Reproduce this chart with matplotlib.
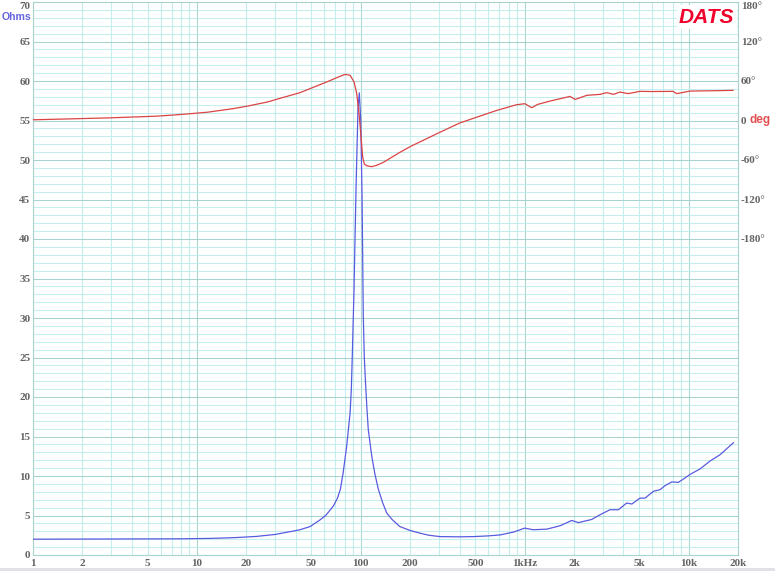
"""
Impedance / phase sweep of a woofer, DATS style.
"""

import matplotlib
matplotlib.use("Agg")
import matplotlib.pyplot as plt
from matplotlib.ticker import FixedLocator, NullFormatter


# impedance curve (Hz, ohms)
imp_freq = [1, 8, 12, 17, 23, 30, 38, 42.6, 49, 56, 61, 68, 72, 75, 78, 82, 86,
            87.5, 88.7, 90.9, 93.5, 96.1, 97.9, 99.9, 101.7, 102.7, 103.5, 105,
            107, 109, 111, 116.6, 122, 128, 136, 144, 155, 173, 200, 230, 260,
            304, 400, 490, 600, 707, 853, 1000, 1124, 1361, 1642, 1935, 2125,
            2564, 2880, 3314, 3727, 4190, 4500, 5050, 5420, 6093, 6690, 7185,
            7888, 8656, 9508, 10200, 11750, 13520, 15560, 17070, 18740]
imp_ohms = [2.0, 2.05, 2.1, 2.2, 2.35, 2.6, 3.0, 3.2, 3.6, 4.4, 5.0, 6.2, 7.2, 8.3,
            10.4, 13.8, 18.0, 21.0, 25.2, 33.7, 46.5, 56.6, 58.5, 55.0, 45.6,
            37.3, 30.3, 25.0, 21.5, 18.5, 15.9, 12.5, 10.2, 8.3, 6.6, 5.3, 4.5,
            3.6, 3.1, 2.76, 2.5, 2.33, 2.3, 2.33, 2.42, 2.54, 2.9, 3.4, 3.2,
            3.27, 3.7, 4.37, 4.1, 4.5, 5.1, 5.73, 5.73, 6.58, 6.45, 7.2, 7.2,
            8.06, 8.27, 8.78, 9.25, 9.2, 9.76, 10.2, 10.9, 11.9, 12.7, 13.45, 14.2]

# phase curve (Hz, degrees)
ph_freq = [1, 1.6, 3, 4.4, 5.7, 7, 9, 11.7, 16.6, 20, 26.8, 33, 42.6, 52, 61.9,
           72, 80, 86, 91, 94.4, 98, 100.7, 102.7, 105, 108.6, 116.5, 125, 137,
           173, 200, 250, 304, 403, 509, 674, 893, 1000, 1104, 1196, 1427, 1889,
           2027, 2390, 2880, 3164, 3473, 3814, 4286, 5050, 6000, 8035, 8460,
           10200, 14000, 18660]
ph_deg = [1.1, 2.3, 4.1, 5.6, 6.6, 8.1, 10.2, 12.7, 18.0, 21.5, 28.0, 34.5, 42.3,
          51.0, 58.5, 65.5, 70.0, 68.7, 58.5, 40.8, 5.0, -30.5, -56.0, -66.0,
          -68.7, -70.2, -68.0, -63.7, -48.4, -39.7, -28.0, -17.8, -3.6, 5.0,
          15.3, 24.0, 25.5, 19.4, 24.4, 29.5, 36.6, 32.0, 38.2, 39.7, 42.3,
          39.7, 43.2, 40.8, 44.3, 44.0, 44.3, 40.8, 44.7, 45.2, 45.8]

x_ticks = [1, 2, 5, 10, 20, 50, 100, 200, 500, 1000, 2000, 5000, 10000, 20000]
x_labels = ["1", "2", "5", "10", "20", "50", "100", "200", "500", "1kHz",
            "2k", "5k", "10k", "20k"]
ph_ticks = [-180, -120, -60, 0, 60, 120, 180]
ph_labels = ["-180°", "-120°", "-60°", "0", "60°", "120°", "180°"]

BLUE = "#5a5ae0"
RED = "#dc4444"
GRID_MINOR = "#c4eeee"
GRID_MAJOR = "#a8d4d0"
LABEL = "#646464"
FONT = dict(family="Liberation Serif", weight="bold", size=8)
SANS = dict(family="Liberation Sans", weight="bold", size=8.5)


fig = plt.figure(figsize=(7.75, 5.71), dpi=100)
fig.patch.set_facecolor("white")
ax = fig.add_axes([33 / 775, 16 / 571, 705 / 775, 553 / 571])

ax.set_xscale("log")
ax.set_xlim(1, 20000)
ax.set_ylim(0, 70)

# decades are the major (darker) lines, 2..9 the minor ones
decades = [1, 10, 100, 1000, 10000]
minors = [d * k for d in decades for k in range(2, 10) if d * k <= 20000]
ax.xaxis.set_major_locator(FixedLocator(decades))
ax.xaxis.set_minor_locator(FixedLocator(minors))
lab = dict(zip(x_ticks, x_labels))
ax.set_xticks(decades, [lab[d] for d in decades])
ax.set_xticks(minors, [lab.get(m, "") for m in minors], minor=True)

ax.set_yticks(range(0, 71, 5))
ax.set_yticks(range(0, 71, 1), minor=True)
ax.yaxis.set_minor_formatter(NullFormatter())

ax.grid(which="minor", color=GRID_MINOR, lw=0.75, zorder=0)
ax.grid(which="major", color=GRID_MAJOR, lw=0.75, zorder=0)
ax.set_axisbelow(True)

ax.tick_params(which="both", length=0, colors=LABEL)
ax.tick_params(axis="x", which="both", pad=3)
ax.tick_params(axis="y", pad=2)
for t in ax.get_xticklabels(which="both") + ax.get_yticklabels():
    t.set_fontproperties(FONT)
    t.set_color(LABEL)
ax.get_yticklabels()[-1].set_va("top")

for s in ax.spines.values():
    s.set_color(GRID_MAJOR)
    s.set_linewidth(0.8)

ax.plot(imp_freq, imp_ohms, color=BLUE, lw=0.9, zorder=3)

# phase on the right, 0 deg sits at 55 ohms, 60 deg per 5 ohms
ax2 = ax.twinx()
ax2.set_ylim(-660, 180)
ax2.set_yticks(ph_ticks, ph_labels)
ax2.tick_params(length=0, pad=2, colors=LABEL)
for t in ax2.get_yticklabels():
    t.set_fontproperties(FONT)
    t.set_color(LABEL)
ax2.get_yticklabels()[-1].set_va("top")
for s in ax2.spines.values():
    s.set_visible(False)
ax2.plot(ph_freq, ph_deg, color=RED, lw=0.9, zorder=4)

ax2.annotate("deg", xy=(1, 0), xycoords=("axes fraction", "data"),
             xytext=(8.5, 0), textcoords="offset points", va="center",
             ha="left", color="#e05050", fontproperties=SANS)

fig.text(31 / 775, 1 - 16.5 / 571, "Ohms", ha="right", va="center",
         color="#6464e0", family="Liberation Sans", weight="bold", size=7.6)

ax2.text(0.995, 0.99, "DATS", transform=ax2.transAxes, ha="right", va="top",
         family="Liberation Sans", weight="bold", style="italic", size=15,
         color="#f0002a", zorder=10,
         bbox=dict(facecolor="white", edgecolor="none", pad=1.5))

# grey strip at the very bottom of the window
fig.add_artist(plt.Rectangle((0, 0), 1, 3 / 571, transform=fig.transFigure,
                             facecolor="#e2e2e6", edgecolor="none"))

fig.savefig("out.png", dpi=100)
